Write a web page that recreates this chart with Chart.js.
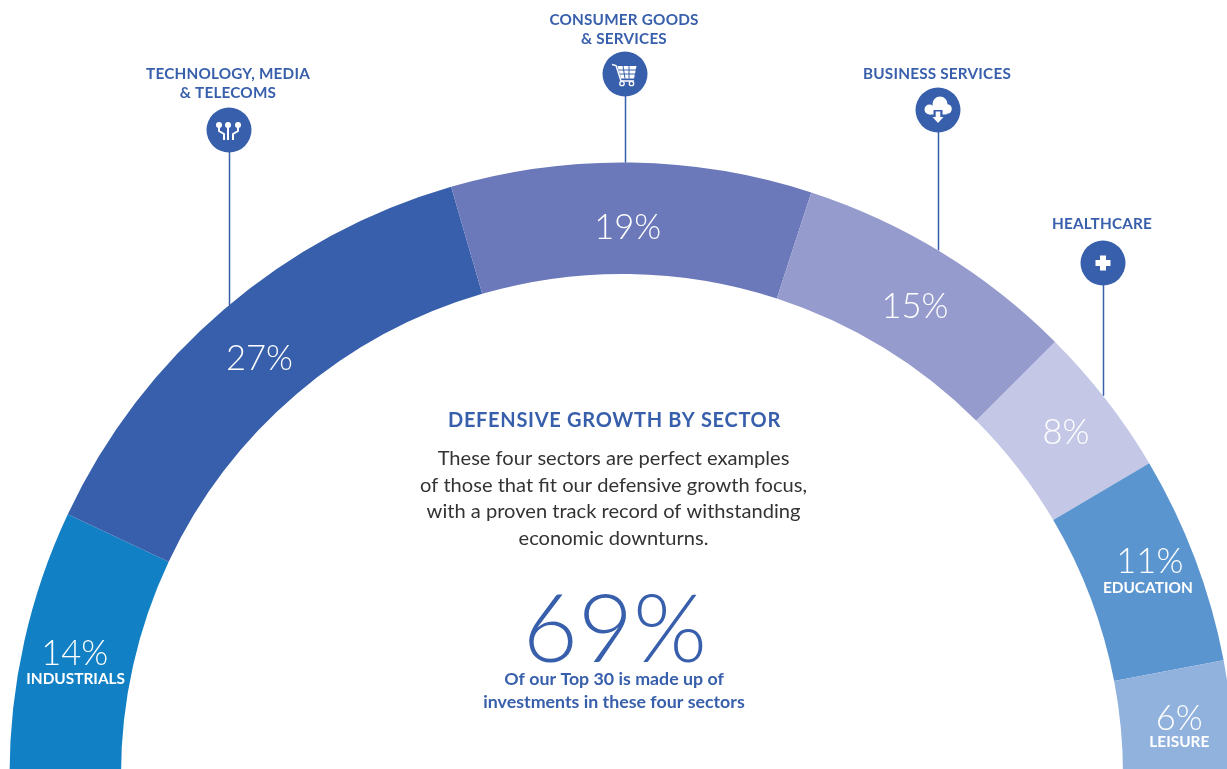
<!DOCTYPE html>
<html>
<head>
<meta charset="utf-8">
<title>Defensive growth by sector</title>
<script src="https://cdn.jsdelivr.net/npm/chart.js@4"></script>
<style>
    html, body { margin: 0; padding: 0; background: #fff; overflow: hidden; width: 1227px; height: 769px; }
    canvas { display: block; }
</style>
</head>
<body>
<canvas id="sectorChart" width="1235" height="776"></canvas>
<script>
// portfolio split, left to right round the arch
var sectors = ["Industrials", "Technology, Media & Telecoms", "Consumer Goods & Services", "Business Services", "Healthcare", "Education", "Leisure"];
var shares = [14, 27, 19, 15, 8, 11, 6];
var sliceColors = ["#1280c4", "#385fab", "#6b78ba", "#959ccd", "#c4c7e5", "#5b95cf", "#92b2de"];

var headlineShare = 69;
var headingText = "DEFENSIVE GROWTH BY SECTOR";
var bodyLines = ["These four sectors are perfect examples", "of those that fit our defensive growth focus,", "with a proven track record of withstanding", "economic downturns."];
var headlineLines = ["Of our Top 30 is made up of", "investments in these four sectors"];

var BLUE = "#385fab";
var LABEL_FONT = '"Lato", sans-serif';

// nudges for the percentage text, from the slice centre point
var percentNudge = [[-4, 0], [-1, 7], [-3, 10], [2, 7], [4, -1], [7, -16], [3, -4]];

// names written inside the slice instead of on a callout
var insideNames = { 0: { text: "INDUSTRIALS", dx: 1, dy: 25 }, 5: { text: "EDUCATION", dx: -2, dy: 26 }, 6: { text: "LEISURE", dx: 0, dy: 23 } };

// callouts above the arch: slice index, stem x, badge y, caption
var callouts = [
    { slice: 1, x: 229, y: 130, icon: "chip", caption: ["TECHNOLOGY, MEDIA", "& TELECOMS"], captionY: 74 },
    { slice: 2, x: 625, y: 74, icon: "cart", caption: ["CONSUMER GOODS", "& SERVICES"], captionY: 20 },
    { slice: 3, x: 938, y: 110, icon: "cloud", caption: ["BUSINESS SERVICES"], captionY: 74 },
    { slice: 4, x: 1103, y: 263, icon: "plus", caption: ["HEALTHCARE"], captionY: 224 }
];

function putText(ctx, str, x, y, font, color, spacing) {
    ctx.font = font;
    ctx.fillStyle = color;
    ctx.textAlign = "center";
    ctx.textBaseline = "middle";
    ctx.letterSpacing = (spacing || 0) + "px";
    ctx.fillText(str, x, y);
    ctx.letterSpacing = "0px";
}

function drawChip(ctx) {
    ctx.strokeStyle = "#fff";
    ctx.lineWidth = 2;
    ctx.beginPath();
    ctx.moveTo(-10, -4); ctx.lineTo(-10, 1); ctx.lineTo(-5, 4); ctx.lineTo(-5, 10);
    ctx.moveTo(-1, -4); ctx.lineTo(-1, 10);
    ctx.moveTo(9, -4); ctx.lineTo(9, 1); ctx.lineTo(4, 4); ctx.lineTo(4, 10);
    ctx.stroke();
    ctx.fillStyle = "#fff";
    [-10, -1, 9].forEach(function(dx) {
        ctx.beginPath();
        ctx.arc(dx, -5, 3, 0, Math.PI * 2);
        ctx.fill();
    });
}

function drawCart(ctx) {
    ctx.strokeStyle = "#fff";
    ctx.fillStyle = "#fff";
    ctx.lineWidth = 1.4;
    ctx.beginPath();
    ctx.moveTo(-13, -9.5); ctx.lineTo(-9, -8.5); ctx.lineTo(-4, 7); ctx.lineTo(9, 7);
    ctx.stroke();
    ctx.beginPath();
    ctx.moveTo(-7.5, -8); ctx.lineTo(11.5, -8); ctx.lineTo(9, 4.5); ctx.lineTo(-4, 4.5);
    ctx.closePath();
    ctx.fill();
    ctx.strokeStyle = BLUE;
    ctx.lineWidth = 1;
    ctx.beginPath();
    ctx.moveTo(-6, -4); ctx.lineTo(11, -4);
    ctx.moveTo(-5, 0); ctx.lineTo(10, 0);
    ctx.moveTo(-2, -8); ctx.lineTo(0, 4.5);
    ctx.moveTo(4, -8); ctx.lineTo(4, 4.5);
    ctx.stroke();
    ctx.strokeStyle = "#fff";
    ctx.lineWidth = 1.3;
    [-3, 6.5].forEach(function(dx) {
        ctx.beginPath();
        ctx.arc(dx, 9.5, 2.2, 0, Math.PI * 2);
        ctx.stroke();
    });
}

function drawCloud(ctx) {
    ctx.fillStyle = "#fff";
    ctx.beginPath();
    ctx.arc(2, -6, 7.5, 0, Math.PI * 2);
    ctx.arc(-8.5, -0.5, 5, 0, Math.PI * 2);
    ctx.fill();
    ctx.beginPath();
    ctx.arc(9, -1, 4.8, 0, Math.PI * 2);
    ctx.fill();
    ctx.fillRect(-8.5, -4, 17, 8.5);
    ctx.fillStyle = BLUE;
    ctx.fillRect(-4.5, 0, 9, 6);
    ctx.fillStyle = "#fff";
    ctx.beginPath();
    ctx.moveTo(-2.3, 1.5); ctx.lineTo(2.3, 1.5); ctx.lineTo(2.3, 7); ctx.lineTo(5.5, 7);
    ctx.lineTo(0, 13); ctx.lineTo(-5.5, 7); ctx.lineTo(-2.3, 7);
    ctx.closePath();
    ctx.fill();
}

function drawPlus(ctx) {
    ctx.fillStyle = "#fff";
    ctx.fillRect(-3, -7.5, 6, 15);
    ctx.fillRect(-7.5, -3, 15, 6);
}

var iconDrawers = { chip: drawChip, cart: drawCart, cloud: drawCloud, plus: drawPlus };

var overlayPlugin = {
    id: "overlay",
    afterDraw: function(chart) {
        var ctx = chart.ctx;
        var arcs = chart.getDatasetMeta(0).data;
        var percentFont = '300 34.5px ' + LABEL_FONT;
        var nameFont = '700 15.4px ' + LABEL_FONT;

        ctx.save();

        // stems run from each badge down to the outer edge of its slice
        callouts.forEach(function(c) {
            var arc = arcs[c.slice];
            var dx = c.x - arc.x;
            var edgeY = arc.y - Math.sqrt(arc.outerRadius * arc.outerRadius - dx * dx);
            ctx.strokeStyle = BLUE;
            ctx.lineWidth = 1.5;
            ctx.beginPath();
            ctx.moveTo(c.x + 0.5, c.y);
            ctx.lineTo(c.x + 0.5, edgeY);
            ctx.stroke();

            ctx.fillStyle = BLUE;
            ctx.beginPath();
            ctx.arc(c.x, c.y, 22.5, 0, Math.PI * 2);
            ctx.fill();

            ctx.save();
            ctx.translate(c.x, c.y);
            iconDrawers[c.icon](ctx);
            ctx.restore();

            c.caption.forEach(function(line, i) {
                putText(ctx, line, c.x - 1, c.captionY + i * 19, '700 15.3px ' + LABEL_FONT, BLUE, 0.2);
            });
        });

        // percentages sit at the middle of each slice
        arcs.forEach(function(arc, i) {
            var p = arc.getCenterPoint();
            var px = p.x + percentNudge[i][0];
            var py = p.y + percentNudge[i][1];
            putText(ctx, shares[i] + "%", px, py, percentFont, "#fff");
            if (insideNames[i]) {
                putText(ctx, insideNames[i].text, px + insideNames[i].dx, py + insideNames[i].dy, nameFont, "#fff");
            }
        });

        // text inside the arch
        putText(ctx, headingText, 614.5, 421, '700 20px ' + LABEL_FONT, BLUE, 0.7);
        bodyLines.forEach(function(line, i) {
            putText(ctx, line, 613.5, 458.5 + i * 26.7, '400 20.1px ' + LABEL_FONT, "#333", 0);
        });
        putText(ctx, headlineShare + "%", 615, 631, '300 95px ' + LABEL_FONT, BLUE);
        headlineLines.forEach(function(line, i) {
            putText(ctx, line, 614, 679 + i * 23, '700 17.8px ' + LABEL_FONT, BLUE, 0);
        });

        ctx.restore();
    }
};

var chart = new Chart(document.getElementById("sectorChart"), {
    type: "doughnut",
    data: {
        labels: sectors,
        datasets: [{
            data: shares,
            backgroundColor: sliceColors,
            borderWidth: 0
        }]
    },
    options: {
        responsive: false,
        animation: false,
        rotation: -90,
        circumference: 180,
        cutout: "81.8%",
        layout: { padding: { left: 9.5, top: 162.5, right: 0.5, bottom: 1 } },
        plugins: {
            legend: { display: false },
            tooltip: { enabled: false }
        }
    },
    plugins: [overlayPlugin]
});
</script>
</body>
</html>
